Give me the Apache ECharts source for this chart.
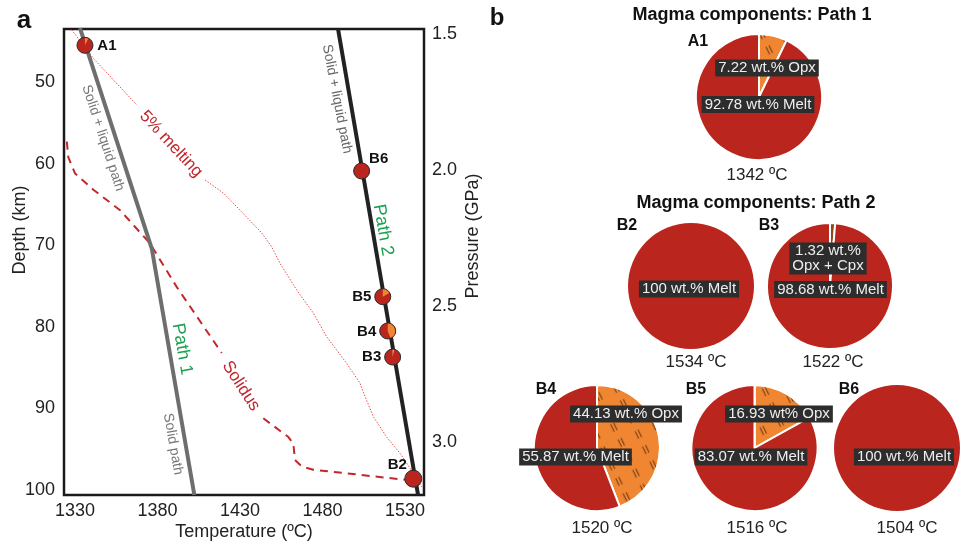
<!DOCTYPE html>
<html>
<head>
<meta charset="utf-8">
<script src="https://cdn.jsdelivr.net/npm/echarts@6/dist/echarts.min.js"></script>
<style>
html, body { margin: 0; padding: 0; background: #fff; }
#root { width: 970px; height: 543px; }
</style>
</head>
<body>
<div id="root"></div>
<script>
const FONT = '"Liberation Sans", Arial, Helvetica, sans-serif';
const MELT = '#ba261d';
const OPX = '#f08632';
const CPX_OPX = '#8a4a1e';
const GREEN = '#1ba04f';
const RED = '#c1272d';

// tick labels
const tempTicks = [1330, 1380, 1430, 1480, 1530];
const depthTicks = [50, 60, 70, 80, 90, 100];
const pressureTicks = [1.5, 2.0, 2.5, 3.0, 3.2];

// lines: [temperature ºC, depth km]
const path1 = [[1333, 43.4], [1376.5, 70.4], [1402.3, 100.6]];
const path2 = [[1489.4, 43.5], [1537.9, 100.6]];
const solidusTop = [[1325, 57.3], [1325.9, 59.2], [1330, 61.2], [1341.1, 63.2], [1357.3, 65.7],
  [1375.5, 69.8], [1391.6, 75.1], [1418.9, 83.2]];
const solidusBottom = [[1444.1, 91.2], [1459.3, 93.5], [1462.3, 94.3], [1463.3, 96.3],
  [1467.4, 97.1], [1474.4, 97.5], [1533, 98.8]];
const meltingTop = [[1328, 43.6], [1341.1, 47.1], [1367.4, 52.8]];
const meltingBottom = [[1408.8, 62.0], [1419.9, 63.6], [1430, 65.7], [1443.2, 68.5], [1449.2, 70.2],
  [1454.2, 72.2], [1464.4, 75.5], [1474.4, 78.3], [1482.5, 81.2], [1494.7, 84.5], [1502.7, 86.9],
  [1504.7, 88.0], [1510.8, 91.0], [1518.9, 93.5], [1527, 95.5], [1533, 97.3], [1540.1, 99.6]];

// samples
const sampleNames = ['A1', 'B2', 'B3', 'B4', 'B5', 'B6'];
const sampleTemp = [1336, 1535, 1522.5, 1519.5, 1516.5, 1503.7];
const sampleDepth = [45.5, 98.6, 83.7, 80.5, 76.3, 60.9];
const solidPct = [7.22, 0, 1.32, 44.13, 16.93, 0];
const meltPct = [92.78, 100, 98.68, 55.87, 83.07, 100];
const pieTemps = ['1342 ºC', '1534 ºC', '1522 ºC', '1520 ºC', '1516 ºC', '1504 ºC'];
const solidText = ['7.22 wt.% Opx', '', '1.32 wt.%\nOpx + Cpx', '44.13 wt.% Opx', '16.93 wt% Opx', ''];
const meltText = ['92.78 wt.% Melt', '100 wt.% Melt', '98.68 wt.% Melt', '55.87 wt.% Melt', '83.07 wt.% Melt', '100 wt.% Melt'];

// where things sit (pixels)
const markerLabelOffset = { A1: [22, 1], B2: [-16, -14], B3: [-21, 0], B4: [-21, 1], B5: [-21, 0], B6: [17, -12] };
const pieLayout = [
  { c: [759, 97], id: [698, 42], t: [757, 175], s: [767, 68], m: [758, 104.5] },
  { c: [691, 286], id: [627, 226], t: [696, 362], s: null, m: [689, 289] },
  { c: [830, 286], id: [769, 226], t: [833, 362], s: [828, 258.5], m: [830.5, 289.5] },
  { c: [597, 448], id: [546, 390], t: [602, 528], s: [626, 414], m: [575.5, 457] },
  { c: [754.5, 448], id: [696, 390], t: [757, 528], s: [779, 414], m: [751, 457] },
  { c: [897, 448], id: [849, 390], t: [907, 528], s: null, m: [904, 457] }
];

const hatch = {
  symbol: 'path://M0,0H1.3V10H0ZM4,0H5.3V10H4Z',
  symbolSize: 0.75,
  color: 'rgba(70,35,15,0.75)',
  dashArrayX: [[12, 7]],
  dashArrayY: [11, 6],
  rotation: -0.45
};

const chart = echarts.init(document.getElementById('root'));

function txt(text, x, y, font, fill, rot) {
  return {
    type: 'text', x: x, y: y, rotation: (rot || 0) * Math.PI / 180, z: 100,
    style: { text: text, font: font, fill: fill, align: 'center', verticalAlign: 'middle' }
  };
}

const graphics = [
  txt('a', 24, 21, 'bold 26px ' + FONT, '#111'),
  txt('b', 497, 18, 'bold 24px ' + FONT, '#111'),
  txt('Temperature (ºC)', 244, 532, '18px ' + FONT, '#222'),
  txt('Depth (km)', 20, 230, '18px ' + FONT, '#222', 90),
  txt('Pressure (GPa)', 473, 236, '18px ' + FONT, '#222', 90),
  txt('Solid + liquid path', 103, 138, '14px ' + FONT, '#777', -72),
  txt('Solid + liquid path', 337, 99, '14px ' + FONT, '#666', -79),
  txt('Path 2', 383, 230, '18px ' + FONT, GREEN, -80),
  txt('Path 1', 182, 349, '18px ' + FONT, GREEN, -80),
  txt('Solid path', 173, 444, '14px ' + FONT, '#777', -80),
  txt('5% melting', 171, 144, '17px ' + FONT, RED, -47),
  txt('Solidus', 241, 386, '17px ' + FONT, RED, -57),
  txt('Magma components: Path 1', 752, 15, 'bold 18px ' + FONT, '#111'),
  txt('Magma components: Path 2', 756, 203, 'bold 18px ' + FONT, '#111')
];

const boxStyle = { backgroundColor: '#2d2d2d', padding: [1, 3, 1, 3], lineHeight: 15 };
pieLayout.forEach(function (p, i) {
  graphics.push(txt(sampleNames[i], p.id[0], p.id[1], 'bold 16px ' + FONT, '#111'));
  graphics.push(txt(pieTemps[i], p.t[0], p.t[1], '17px ' + FONT, '#222'));
  if (p.s) {
    const e = txt(solidText[i], p.s[0], p.s[1], '15px ' + FONT, '#eee');
    Object.assign(e.style, boxStyle);
    graphics.push(e);
  }
  const m = txt(meltText[i], p.m[0], p.m[1], '15px ' + FONT, '#eee');
  Object.assign(m.style, boxStyle);
  graphics.push(m);
});

const pieSeries = pieLayout.map(function (p, i) {
  const data = [];
  if (solidPct[i] > 0) {
    const item = { name: 'solid', value: solidPct[i], itemStyle: { color: solidPct[i] < 5 ? CPX_OPX : OPX } };
    if (solidPct[i] >= 5) item.itemStyle.decal = hatch;
    data.push(item);
  }
  data.push({ name: 'melt', value: meltPct[i], itemStyle: { color: MELT } });
  return {
    type: 'pie', center: p.c, radius: 63, startAngle: 90, clockwise: true,
    silent: true, label: { show: false }, labelLine: { show: false },
    itemStyle: { borderColor: '#fff', borderWidth: solidPct[i] > 0 ? 2 : 0 },
    data: data
  };
});

function lineSeries(data, color, width, type) {
  return {
    type: 'line', data: data, symbol: 'none', silent: true, z: 3,
    lineStyle: { color: color, width: width, type: type || 'solid' }
  };
}

const option = {
  animation: false,
  grid: { left: 64, right: 546, top: 29, bottom: 48, show: true, borderColor: '#1a1a1a', borderWidth: 2.5 },
  xAxis: {
    type: 'value', min: 1323.3, max: 1541.5,
    axisLine: { show: false }, axisTick: { show: false }, splitLine: { show: false },
    axisLabel: {
      customValues: tempTicks, fontSize: 18, fontFamily: FONT, color: '#222', margin: 7,
      formatter: function (v) { return String(v); }
    }
  },
  yAxis: [{
    type: 'value', inverse: true, min: 43.5, max: 100.6,
    axisLine: { show: false }, axisTick: { show: false }, splitLine: { show: false },
    axisLabel: { customValues: depthTicks, fontSize: 18, fontFamily: FONT, color: '#222', margin: 9 }
  }, {
    type: 'value', inverse: true, min: 1.482, max: 3.195, position: 'right',
    axisLine: { show: false }, axisTick: { show: false }, splitLine: { show: false },
    axisLabel: {
      customValues: pressureTicks, fontSize: 18, fontFamily: FONT, color: '#222', margin: 8,
      formatter: function (v) { return v.toFixed(1); }
    }
  }],
  graphic: graphics,
  series: [
    lineSeries(meltingTop, '#e8504a', 1, [1.5, 1.5]),
    lineSeries(meltingBottom, '#e8504a', 1, [1.5, 1.5]),
    lineSeries(solidusTop, RED, 2, [8, 6]),
    lineSeries(solidusBottom, RED, 2, [8, 6]),
    lineSeries(path1, '#6e6e6e', 4),
    lineSeries(path2, '#222', 4),
    {
      type: 'custom', z: 10, silent: true,
      data: sampleNames.map(function (n, i) { return [sampleTemp[i], sampleDepth[i], solidPct[i]]; }),
      renderItem: function (params, api) {
        const c = api.coord([api.value(0), api.value(1)]);
        const f = api.value(2) / 100;
        const r = params.dataIndex === 1 ? 8.5 : 8;
        const name = sampleNames[params.dataIndex];
        const off = markerLabelOffset[name];
        const children = [{
          type: 'circle', shape: { cx: c[0], cy: c[1], r: r },
          style: { fill: MELT, stroke: '#2a2a2a', lineWidth: 1 }
        }];
        if (f > 0) {
          children.push({
            type: 'sector',
            shape: { cx: c[0], cy: c[1], r0: 0, r: r - 0.6, startAngle: -Math.PI / 2,
              endAngle: -Math.PI / 2 + Math.max(f, 0.03) * 2 * Math.PI, clockwise: true },
            style: { fill: f < 0.05 ? '#f2b58e' : OPX }
          });
        }
        children.push({
          type: 'text', x: c[0] + off[0], y: c[1] + off[1],
          style: { text: name, font: 'bold 15px ' + FONT, fill: '#111', align: 'center', verticalAlign: 'middle' }
        });
        return { type: 'group', children: children };
      }
    }
  ].concat(pieSeries)
};

chart.setOption(option);
</script>
</body>
</html>
